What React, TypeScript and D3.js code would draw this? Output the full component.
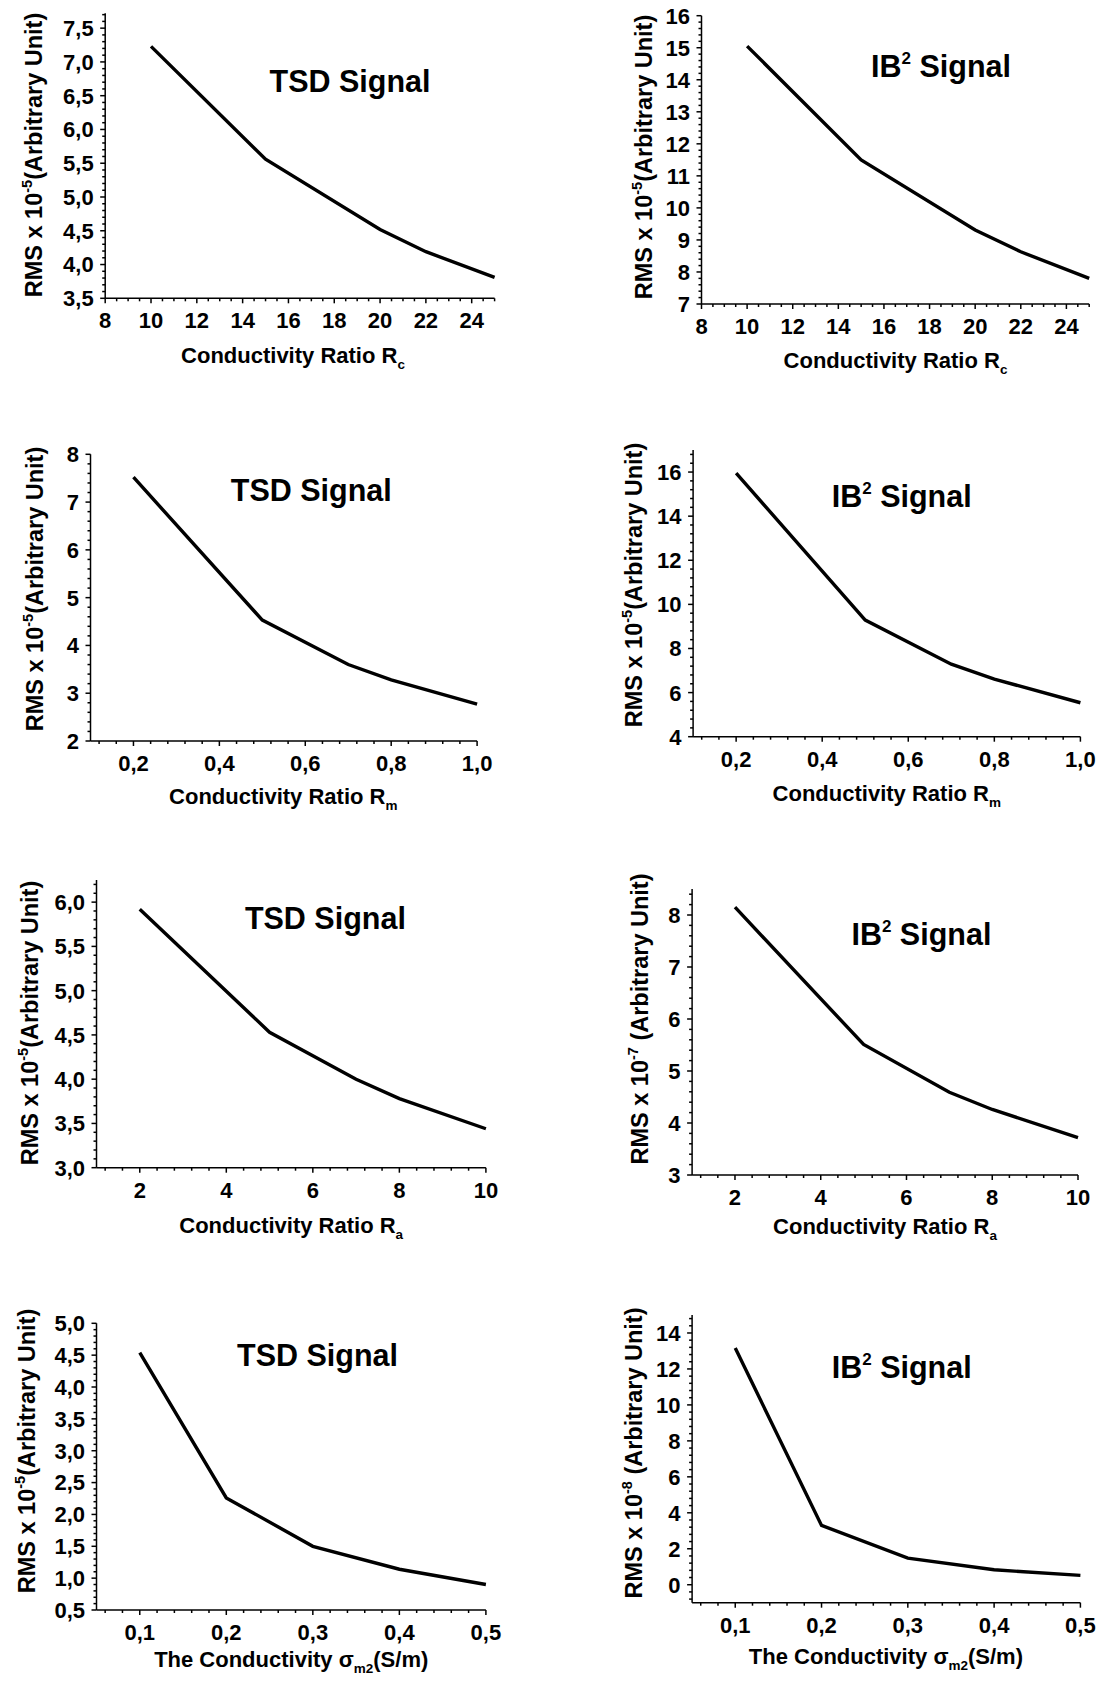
import React from 'react';
import * as d3 from 'd3';

// x values of each study
const rcValues = [10, 15, 20, 22, 25];
const rmValues = [0.2, 0.5, 0.7, 0.8, 1.0];
const raValues = [2, 5, 7, 8, 10];
const sigmaValues = [0.1, 0.2, 0.3, 0.4, 0.5];

// RMS values
const tsdRc = [7.23, 5.56, 4.52, 4.19, 3.81];
const ib2Rc = [15.05, 11.5, 9.31, 8.63, 7.8];
const tsdRm = [7.52, 4.53, 3.6, 3.28, 2.77];
const ib2Rm = [15.95, 9.29, 7.29, 6.61, 5.54];
const tsdRa = [5.92, 4.53, 4.0, 3.78, 3.44];
const ib2Ra = [8.15, 5.51, 4.59, 4.26, 3.72];
const tsdSigma = [4.54, 2.26, 1.5, 1.14, 0.9];
const ib2Sigma = [13.16, 3.3, 1.48, 0.83, 0.52];

// tick values
const rcTicks = [8, 10, 12, 14, 16, 18, 20, 22, 24];
const rmTicks = [0.2, 0.4, 0.6, 0.8, 1.0];
const raTicks = [2, 4, 6, 8, 10];
const sigmaTicks = [0.1, 0.2, 0.3, 0.4, 0.5];
const tsdRcTicks = [3.5, 4.0, 4.5, 5.0, 5.5, 6.0, 6.5, 7.0, 7.5];
const ib2RcTicks = [7, 8, 9, 10, 11, 12, 13, 14, 15, 16];
const tsdRmTicks = [2, 3, 4, 5, 6, 7, 8];
const ib2RmTicks = [4, 6, 8, 10, 12, 14, 16];
const tsdRaTicks = [3.0, 3.5, 4.0, 4.5, 5.0, 5.5, 6.0];
const ib2RaTicks = [3, 4, 5, 6, 7, 8];
const tsdSigmaTicks = [0.5, 1.0, 1.5, 2.0, 2.5, 3.0, 3.5, 4.0, 4.5, 5.0];
const ib2SigmaTicks = [0, 2, 4, 6, 8, 10, 12, 14];

const FONT = "'Liberation Sans', Arial, Helvetica, sans-serif";

type Cfg = {
  xs: number[];
  ys: number[];
  box: { left: number; right: number; top: number; bottom: number };
  xDomain: [number, number];
  yDomain: [number, number];
  xTicks: number[];
  yTicks: number[];
  xDigits: number;
  yDigits: number;
  xMinor: number;
  yMinor: number;
  ib2: boolean;
  title: [number, number];
  xSub: string;
  sigma?: boolean;
  xLabel: [number, number];
  yExp: string;
  ySpace?: boolean;
  yLabel: [number, number];
};

const fmt = (d: number, digits: number) => d.toFixed(digits).replace('.', ',');

function minorTicks(domain: [number, number], anchor: number, step: number, majors: number[]) {
  const k0 = Math.ceil((domain[0] - anchor) / step - 1e-6);
  const k1 = Math.floor((domain[1] - anchor) / step + 1e-6);
  return d3.range(k0, k1 + 1)
    .map(k => anchor + k * step)
    .filter(v => !majors.some(m => Math.abs(m - v) < step / 10));
}

const Panel: React.FC<{ c: Cfg }> = ({ c }) => {
  const { box } = c;
  const x = d3.scaleLinear().domain(c.xDomain).range([box.left, box.right]);
  const y = d3.scaleLinear().domain(c.yDomain).range([box.bottom, box.top]);
  const line = d3.line<number>((d, i) => x(c.xs[i]), d => y(d));
  const xm = minorTicks(c.xDomain, c.xTicks[0], c.xMinor, c.xTicks);
  const ym = minorTicks(c.yDomain, c.yTicks[0], c.yMinor, c.yTicks);
  return (
    <g>
      <g stroke="#000" strokeWidth={1.5}>
        <line x1={box.left} x2={box.right} y1={box.bottom} y2={box.bottom} />
        <line x1={box.left} x2={box.left} y1={box.bottom} y2={box.top} />
        {c.xTicks.map(t => <line key={'xt' + t} x1={x(t)} x2={x(t)} y1={box.bottom} y2={box.bottom + 5} />)}
        {xm.map(t => <line key={'xm' + t} x1={x(t)} x2={x(t)} y1={box.bottom} y2={box.bottom + 3} />)}
        {c.yTicks.map(t => <line key={'yt' + t} x1={box.left - 5} x2={box.left} y1={y(t)} y2={y(t)} />)}
        {ym.map(t => <line key={'ym' + t} x1={box.left - 3} x2={box.left} y1={y(t)} y2={y(t)} />)}
      </g>
      <g fontFamily={FONT} fontWeight="bold" fontSize={22} fill="#000">
        {c.xTicks.map(t => (
          <text key={'xl' + t} x={x(t)} y={box.bottom + 30} textAnchor="middle">{fmt(t, c.xDigits)}</text>
        ))}
        {c.yTicks.map(t => (
          <text key={'yl' + t} x={box.left - 11.5} y={y(t)} dy="0.36em" textAnchor="end">{fmt(t, c.yDigits)}</text>
        ))}
      </g>
      <path d={line(c.ys) ?? ''} fill="none" stroke="#000" strokeWidth={3.4} />
      <text x={c.title[0]} y={c.title[1]} textAnchor="middle" fontFamily={FONT} fontWeight="bold" fontSize={30.5}>
        {c.ib2 ? (
          <>IB<tspan dy={-13} fontSize={17}>2</tspan><tspan dy={13}> Signal</tspan></>
        ) : 'TSD Signal'}
      </text>
      <text x={c.xLabel[0]} y={c.xLabel[1]} textAnchor="middle" fontFamily={FONT} fontWeight="bold" fontSize={22}>
        {c.sigma ? 'The Conductivity σ' : 'Conductivity Ratio R'}
        <tspan dy={6} fontSize={13.5}>{c.xSub}</tspan>
        {c.sigma ? <tspan dy={-6}>(S/m)</tspan> : null}
      </text>
      <text transform={`translate(${c.yLabel[0]},${c.yLabel[1]}) rotate(-90)`} textAnchor="middle"
        fontFamily={FONT} fontWeight="bold" fontSize={23.5}>
        RMS x 10<tspan dy={-10} fontSize={14.5}>{c.yExp}</tspan>
        <tspan dy={10}>{c.ySpace ? ' (Arbitrary Unit)' : '(Arbitrary Unit)'}</tspan>
      </text>
    </g>
  );
};

const panels: Cfg[] = [
  {
    xs: rcValues, ys: tsdRc, box: { left: 105.2, right: 494.6, top: 13.3, bottom: 298.3 },
    xDomain: [8, 25], yDomain: [3.5, 7.72], xTicks: rcTicks, yTicks: tsdRcTicks, xDigits: 0, yDigits: 1,
    xMinor: 0.5, yMinor: 0.1, ib2: false, title: [350, 92], xSub: 'c', xLabel: [293, 362.7], yExp: '-5', yLabel: [42, 155],
  },
  {
    xs: rcValues, ys: ib2Rc, box: { left: 701.5, right: 1089.2, top: 15.7, bottom: 304 },
    xDomain: [8, 25], yDomain: [7, 16], xTicks: rcTicks, yTicks: ib2RcTicks, xDigits: 0, yDigits: 0,
    xMinor: 0.5, yMinor: 0.2, ib2: true, title: [941, 77], xSub: 'c', xLabel: [895.5, 368], yExp: '-5', yLabel: [651.5, 157],
  },
  {
    xs: rmValues, ys: tsdRm, box: { left: 90.5, right: 477.1, top: 454.3, bottom: 741 },
    xDomain: [0.1, 1.0], yDomain: [2, 8], xTicks: rmTicks, yTicks: tsdRmTicks, xDigits: 1, yDigits: 0,
    xMinor: 0.04, yMinor: 0.2, ib2: false, title: [311.3, 501], xSub: 'm', xLabel: [283.3, 804], yExp: '-5', yLabel: [42.8, 589],
  },
  {
    xs: rmValues, ys: ib2Rm, box: { left: 693.1, right: 1080.4, top: 450, bottom: 736.7 },
    xDomain: [0.1, 1.0], yDomain: [4, 17], xTicks: rmTicks, yTicks: ib2RmTicks, xDigits: 1, yDigits: 0,
    xMinor: 0.04, yMinor: 0.4, ib2: true, title: [901.7, 507], xSub: 'm', xLabel: [886.8, 801], yExp: '-5', yLabel: [642, 585],
  },
  {
    xs: raValues, ys: tsdRa, box: { left: 96.5, right: 485.9, top: 880, bottom: 1167.7 },
    xDomain: [1, 10], yDomain: [3, 6.25], xTicks: raTicks, yTicks: tsdRaTicks, xDigits: 0, yDigits: 1,
    xMinor: 0.4, yMinor: 0.1, ib2: false, title: [325.4, 929], xSub: 'a', xLabel: [291.2, 1233], yExp: '-5', yLabel: [38, 1023],
  },
  {
    xs: raValues, ys: ib2Ra, box: { left: 692.1, right: 1078, top: 889, bottom: 1175 },
    xDomain: [1, 10], yDomain: [3, 8.5], xTicks: raTicks, yTicks: ib2RaTicks, xDigits: 0, yDigits: 0,
    xMinor: 0.4, yMinor: 0.2, ib2: true, title: [921.4, 945], xSub: 'a', xLabel: [885, 1234], yExp: '-7', ySpace: true, yLabel: [648, 1019],
  },
  {
    xs: sigmaValues, ys: tsdSigma, box: { left: 96.5, right: 485.9, top: 1323.3, bottom: 1610 },
    xDomain: [0.05, 0.5], yDomain: [0.5, 5.0], xTicks: sigmaTicks, yTicks: tsdSigmaTicks, xDigits: 1, yDigits: 1,
    xMinor: 0.02, yMinor: 0.1, ib2: false, title: [317.5, 1366], xSub: 'm2', sigma: true, xLabel: [291.2, 1667], yExp: '-5', yLabel: [35, 1451],
  },
  {
    xs: sigmaValues, ys: ib2Sigma, box: { left: 692.1, right: 1080.4, top: 1315, bottom: 1602.7 },
    xDomain: [0.05, 0.5], yDomain: [-1, 15], xTicks: sigmaTicks, yTicks: ib2SigmaTicks, xDigits: 1, yDigits: 0,
    xMinor: 0.02, yMinor: 0.4, ib2: true, title: [901.7, 1378], xSub: 'm2', sigma: true, xLabel: [885.9, 1664], yExp: '-8', ySpace: true, yLabel: [642, 1453],
  },
];

const App: React.FC = () => (
  <svg width={1100} height={1685} style={{ position: 'absolute', left: 0, top: 0, background: '#fff' }}>
    <rect width={1100} height={1685} fill="#fff" />
    {panels.map((c, i) => <Panel key={i} c={c} />)}
  </svg>
);

export default App;
